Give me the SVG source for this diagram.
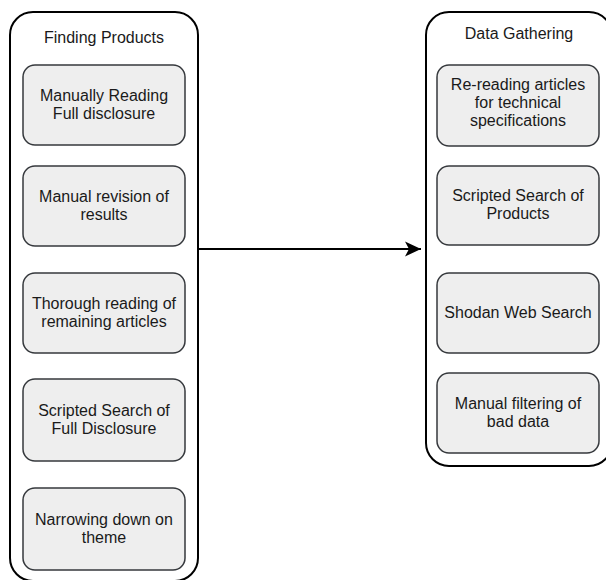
<svg xmlns="http://www.w3.org/2000/svg" width="606" height="580" viewBox="0 0 606 580">
<style>
.container{fill:#ffffff;stroke:#000000;stroke-width:2}
.box{fill:#eeeeee;stroke:#36393d;stroke-width:1.5}
text{font-family:"Liberation Sans",Arial,sans-serif;font-size:16px;fill:#1a1a1a;text-anchor:middle}
.conn{stroke:#000000;stroke-width:2;fill:none}
</style>
<defs>
<marker id="arrow" markerUnits="userSpaceOnUse" markerWidth="20" markerHeight="20" refX="16" refY="8" orient="auto">
<path d="M0,0.5 L16,8 L0,15.5 L4,8 Z" fill="#000000"/>
</marker>
</defs>
<g id="finding-products">
<rect class="container" x="10" y="12" width="188" height="569" rx="23" ry="23"/>
<text x="104" y="42.5">Finding Products</text>
</g>
<g id="fp-1">
<rect class="box" x="23" y="65" width="162" height="80" rx="12" ry="12"/>
<text x="104" y="101">Manually Reading</text>
<text x="104" y="119">Full disclosure</text>
</g>
<g id="fp-2">
<rect class="box" x="23" y="166" width="162" height="80" rx="12" ry="12"/>
<text x="104" y="202">Manual revision of</text>
<text x="104" y="220">results</text>
</g>
<g id="fp-3">
<rect class="box" x="23" y="273" width="162" height="80" rx="12" ry="12"/>
<text x="104" y="309">Thorough reading of</text>
<text x="104" y="327">remaining articles</text>
</g>
<g id="fp-4">
<rect class="box" x="23" y="379" width="162" height="82" rx="12" ry="12"/>
<text x="104" y="416">Scripted Search of</text>
<text x="104" y="434">Full Disclosure</text>
</g>
<g id="fp-5">
<rect class="box" x="23" y="488" width="162" height="82" rx="12" ry="12"/>
<text x="104" y="525">Narrowing down on</text>
<text x="104" y="543">theme</text>
</g>
<g id="data-gathering">
<rect class="container" x="426" y="12" width="186" height="454" rx="23" ry="23"/>
<text x="519" y="39">Data Gathering</text>
</g>
<g id="dg-1">
<rect class="box" x="437" y="65" width="162" height="81" rx="12" ry="12"/>
<text x="518" y="90">Re-reading articles</text>
<text x="518" y="108">for technical</text>
<text x="518" y="126">specifications</text>
</g>
<g id="dg-2">
<rect class="box" x="437" y="166" width="162" height="79" rx="12" ry="12"/>
<text x="518" y="201">Scripted Search of</text>
<text x="518" y="219">Products</text>
</g>
<g id="dg-3">
<rect class="box" x="437" y="273" width="162" height="80" rx="12" ry="12"/>
<text x="518" y="318">Shodan Web Search</text>
</g>
<g id="dg-4">
<rect class="box" x="437" y="373" width="162" height="80" rx="12" ry="12"/>
<text x="518" y="409">Manual filtering of</text>
<text x="518" y="427">bad data</text>
</g>
<g id="connectors">
<path class="conn" d="M198,249 L421,249" marker-end="url(#arrow)"/>
</g>
</svg>
